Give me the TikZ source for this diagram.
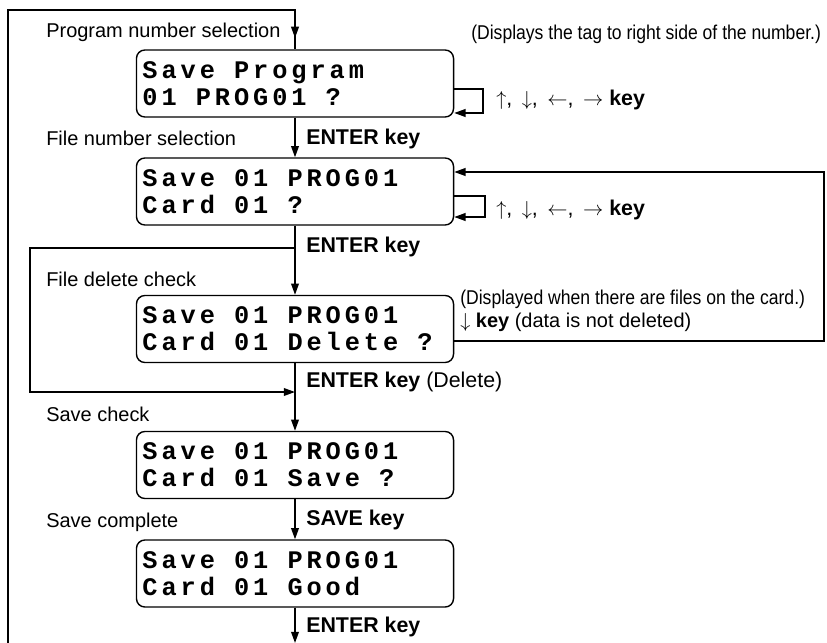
\documentclass[tikz,border=0pt]{standalone}
\usepackage{fontspec}
\setmainfont{Liberation Sans}
\newfontfamily\lcdfont[LetterSpace=15.5]{Liberation Mono}
\newcommand{\lcdsp}{\hspace{13.6pt}}
\newcommand{\narrow}[1]{\scalebox{0.88}[1]{#1}}
\usepackage{tikz}
\usetikzlibrary{arrows.meta, positioning, calc}

\tikzset{
  lcd/.style={draw, rounded corners=6pt, line width=1pt, minimum width=7.925cm, minimum height=1.675cm,
    text width=7.625cm, align=left, inner sep=0pt, font=\lcdfont\bfseries\fontsize{18}{19.1}\selectfont},
  steplabel/.style={anchor=base west, inner sep=0pt, font=\fontsize{14.2}{17}\selectfont},
  keylabel/.style={anchor=base west, inner sep=0pt, font=\fontsize{15.2}{18}\selectfont},
  flow/.style={line width=1.1pt, -{Triangle[length=8pt, width=5.5pt]}},
  wire/.style={line width=1.1pt}
}

\begin{document}
\begin{tikzpicture}[x=0.025cm, y=-0.025cm]
  \useasboundingbox (0,0) rectangle (827,643);

  % Step 1: program number
  \node[lcd] (prog) at (295,83.5) {Save\lcdsp Program\\01\lcdsp PROG01\lcdsp ?};
  \node[steplabel] (progLbl) at (46,38) {Program number selection};
  \node[steplabel] (tagNote) at (471,40) {\narrow{(Displays the tag to right side of the number.)}};
  \node[keylabel] (progKeys) at (496,106) {$\uparrow$,\, $\downarrow$,\, $\leftarrow$,\, $\rightarrow$ \textbf{key}};

  % Step 2: file number
  \node[lcd] (file) at (295,191.5) {Save\lcdsp 01\lcdsp PROG01\\Card\lcdsp 01\lcdsp ?};
  \node[steplabel] (fileLbl) at (46,146) {File number selection};
  \node[keylabel] (enter1) at (306,145) {\textbf{ENTER key}};
  \node[keylabel] (fileKeys) at (496,215) {$\uparrow$,\, $\downarrow$,\, $\leftarrow$,\, $\rightarrow$ \textbf{key}};

  % Step 3: delete check
  \node[lcd] (del) at (295,329) {Save\lcdsp 01\lcdsp PROG01\\Card\lcdsp 01\lcdsp Delete\lcdsp ?};
  \node[steplabel] (delLbl) at (46,286) {File delete check};
  \node[keylabel] (enter2) at (306,252) {\textbf{ENTER key}};
  \node[steplabel] (delNote) at (460,304) {\narrow{(Displayed when there are files on the card.)}};
  \node[steplabel] (delKey) at (460,327) {$\downarrow$ \textbf{key} (data is not deleted)};

  % Step 4: save check
  \node[lcd] (chk) at (295,465) {Save\lcdsp 01\lcdsp PROG01\\Card\lcdsp 01\lcdsp Save\lcdsp ?};
  \node[steplabel] (chkLbl) at (46,421) {Save check};
  \node[keylabel] (enter3) at (306,387) {\textbf{ENTER key} (Delete)};

  % Step 5: save complete
  \node[lcd] (done) at (295,573.5) {Save\lcdsp 01\lcdsp PROG01\\Card\lcdsp 01\lcdsp Good};
  \node[steplabel] (doneLbl) at (46,527) {Save complete};
  \node[keylabel] (saveKey) at (306,525) {\textbf{SAVE key}};
  \node[keylabel] (enter4) at (306,632) {\textbf{ENTER key}};

  % corner points of the connectors
  \coordinate (botL) at (8,643);
  \coordinate (topR) at (295,10);
  \coordinate (progIn) at (295,38);
  \coordinate (loop1a) at (483,89);
  \coordinate (loop1b) at (483,113);
  \coordinate (loop2a) at (485,196);
  \coordinate (loop2b) at (485,217);
  \coordinate (split) at (295,248);
  \coordinate (skipTop) at (30,248);
  \coordinate (skipBot) at (30,392);
  \coordinate (merge) at (295,392);
  \coordinate (backBot) at (824,341);
  \coordinate (backTop) at (824,172);
  \coordinate (endPt) at (295,643);

  % main flow
  \draw[wire] (topR) -- (prog.north);
  \draw[flow] (botL) |- (topR) -- (progIn);
  \draw[flow] (prog) -- (file);
  \draw[flow] (file) -- (del);
  \draw[flow] (del) -- (chk);
  \draw[flow] (chk) -- (done);
  \draw[flow] (done) -- (endPt);

  % key loops
  \draw[flow] (prog.east |- loop1a) -- (loop1a) -- (loop1b) -- (prog.east |- loop1b);
  \draw[flow] (file.east |- loop2a) -- (loop2a) -- (loop2b) -- (file.east |- loop2b);

  % no files on the card: skip delete check
  \draw[flow] (split) -- (skipTop) -- (skipBot) -- (merge);

  % do not delete: back to file selection
  \draw[flow] (del.east |- backBot) -- (backBot) -- (backTop) -- (file.east |- backTop);
\end{tikzpicture}
\end{document}
